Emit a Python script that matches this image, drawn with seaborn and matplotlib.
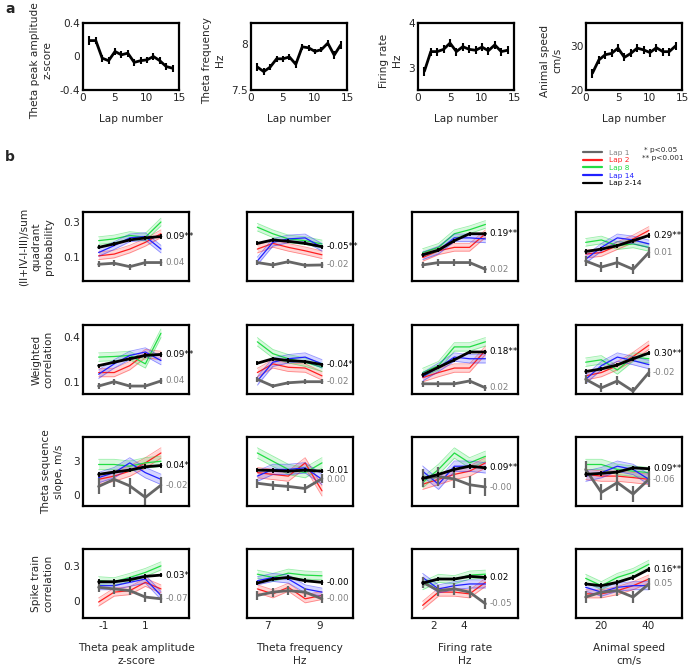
import numpy as np
import matplotlib
matplotlib.use("Agg")
import matplotlib.pyplot as plt
from matplotlib.lines import Line2D
import seaborn as sns

# ---------------- data: panel a (per-lap means) ----------------
laps = list(range(1, 15))
amp_by_lap = [0.19, 0.19, -0.02, -0.05, 0.06, 0.02, 0.04, -0.07, -0.05, -0.04, 0.0, -0.05, -0.12, -0.14]
amp_by_lap_err = [0.05, 0.04, 0.04, 0.04, 0.04, 0.04, 0.04, 0.04, 0.04, 0.04, 0.04, 0.04, 0.04, 0.04]
freq_by_lap = [7.75, 7.70, 7.75, 7.84, 7.84, 7.86, 7.78, 7.97, 7.96, 7.92, 7.94, 8.01, 7.88, 7.99]
freq_by_lap_err = [0.04, 0.04, 0.03, 0.03, 0.03, 0.03, 0.04, 0.03, 0.03, 0.03, 0.03, 0.03, 0.04, 0.04]
rate_by_lap = [2.92, 3.36, 3.36, 3.41, 3.55, 3.36, 3.47, 3.41, 3.39, 3.46, 3.38, 3.51, 3.36, 3.39]
rate_by_lap_err = [0.1, 0.09, 0.09, 0.09, 0.09, 0.09, 0.09, 0.09, 0.09, 0.09, 0.09, 0.09, 0.09, 0.09]
speed_by_lap = [23.8, 26.8, 28.0, 28.3, 29.5, 27.4, 28.3, 29.5, 29.1, 28.5, 29.6, 28.7, 28.7, 30.0]
speed_by_lap_err = [1.0, 0.9, 0.9, 0.9, 0.9, 0.9, 0.9, 0.9, 0.9, 0.9, 0.9, 0.9, 0.9, 1.0]

# ---------------- data: panel b (binned) ----------------
amp_bins = [-1.25, -0.5, 0.25, 1.0, 1.75]
freq_bins = [6.6, 7.2, 7.8, 8.45, 9.1]
rate_bins = [1.3, 2.35, 3.4, 4.4, 5.45]
speed_bins = [13.5, 20.2, 27.0, 33.7, 40.4]

# row 1: quadrant probability; each list = 4 columns x 5 bins
quad_lap1 = [[0.057, 0.063, 0.043, 0.067, 0.067], [0.067, 0.053, 0.072, 0.051, 0.053],
             [0.053, 0.067, 0.067, 0.067, 0.028], [0.076, 0.041, 0.067, 0.028, 0.125]]
quad_lap2 = [[0.106, 0.116, 0.145, 0.184, 0.234], [0.145, 0.178, 0.155, 0.135, 0.112],
             [0.096, 0.135, 0.155, 0.155, 0.234], [0.116, 0.125, 0.165, 0.204, 0.253]]
quad_lap8 = [[0.194, 0.204, 0.224, 0.214, 0.302], [0.272, 0.234, 0.204, 0.194, 0.175],
             [0.125, 0.155, 0.234, 0.257, 0.288], [0.184, 0.198, 0.165, 0.175, 0.155]]
quad_lap14 = [[0.125, 0.165, 0.210, 0.218, 0.145], [0.076, 0.184, 0.204, 0.210, 0.155],
              [0.106, 0.139, 0.210, 0.210, 0.204], [0.086, 0.155, 0.210, 0.198, 0.175]]
quad_all = [[0.155, 0.175, 0.198, 0.210, 0.218], [0.178, 0.198, 0.190, 0.178, 0.159],
            [0.112, 0.139, 0.194, 0.234, 0.234], [0.131, 0.145, 0.165, 0.194, 0.224]]
quad_lap1_err = [0.018, 0.015, 0.02, 0.03]
quad_band = [0.022, 0.022, 0.022, 0.022]
quad_r_all = ["0.09**", "-0.05**", "0.19**", "0.29**"]
quad_r_lap1 = ["0.04", "-0.02", "0.02", "0.01"]

# row 2: weighted correlation
wcorr_lap1 = [[0.073, 0.102, 0.073, 0.073, 0.107], [0.118, 0.073, 0.095, 0.102, 0.102],
              [0.088, 0.088, 0.088, 0.107, 0.061], [0.118, 0.061, 0.107, 0.039, 0.163]]
wcorr_lap2 = [[0.163, 0.163, 0.209, 0.289, 0.277], [0.163, 0.221, 0.198, 0.193, 0.141],
              [0.129, 0.163, 0.193, 0.193, 0.311], [0.141, 0.163, 0.209, 0.270, 0.345]]
wcorr_lap8 = [[0.266, 0.270, 0.277, 0.221, 0.425], [0.368, 0.289, 0.255, 0.232, 0.198],
              [0.163, 0.209, 0.334, 0.334, 0.368], [0.232, 0.248, 0.180, 0.266, 0.255]]
wcorr_lap14 = [[0.152, 0.221, 0.277, 0.300, 0.243], [0.107, 0.232, 0.255, 0.266, 0.221],
               [0.134, 0.198, 0.266, 0.255, 0.255], [0.118, 0.209, 0.266, 0.243, 0.216]]
wcorr_all = [[0.209, 0.232, 0.255, 0.277, 0.284], [0.225, 0.255, 0.243, 0.236, 0.216],
             [0.148, 0.198, 0.248, 0.300, 0.300], [0.170, 0.187, 0.214, 0.255, 0.293]]
wcorr_lap1_err = [0.02, 0.015, 0.02, 0.03]
wcorr_band = [0.028, 0.028, 0.028, 0.028]
wcorr_r_all = ["0.09**", "-0.04*", "0.18**", "0.30**"]
wcorr_r_lap1 = ["0.04", "-0.02", "0.02", "-0.02"]

# row 3: theta sequence slope
slope_lap1 = [[0.75, 1.37, 0.80, -0.20, 0.86], [1.03, 0.86, 0.75, 0.57, 1.43],
              [1.50, 1.60, 1.40, 0.90, 0.70], [2.23, 0.23, 1.09, 0.09, 1.37]]
slope_lap2 = [[1.37, 1.65, 2.08, 2.80, 3.66], [1.95, 1.80, 1.65, 2.80, 0.37],
              [0.94, 1.37, 1.80, 2.08, 2.80], [1.80, 1.65, 1.65, 1.52, 1.37]]
slope_lap8 = [[2.66, 2.66, 2.51, 2.80, 2.94], [3.66, 2.94, 2.23, 1.95, 2.80],
              [1.09, 2.23, 3.66, 2.80, 3.37], [2.66, 2.66, 2.23, 2.08, 1.95]]
slope_lap14 = [[1.52, 1.95, 2.80, 1.95, 1.37], [1.65, 2.23, 2.23, 2.37, 1.37],
               [2.08, 0.94, 2.51, 2.51, 2.37], [1.65, 1.95, 2.51, 2.23, 1.37]]
slope_all = [[1.80, 2.00, 2.17, 2.46, 2.57], [2.17, 2.14, 2.08, 2.17, 2.08],
             [1.43, 1.80, 2.23, 2.51, 2.37], [1.80, 1.89, 2.00, 2.37, 2.29]]
slope_lap1_err = [0.7, 0.4, 0.8, 0.7]
slope_band = [0.45, 0.45, 0.45, 0.45]
slope_r_all = ["0.04*", "-0.01", "0.09**", "0.09**"]
slope_r_lap1 = ["-0.02", "0.00", "-0.00", "-0.06"]

# row 4: spike train correlation
spike_lap1 = [[0.117, 0.103, 0.088, 0.032, 0.017], [0.046, 0.075, 0.088, 0.075, 0.017],
              [0.160, 0.088, 0.103, 0.075, -0.026], [0.032, 0.075, 0.088, 0.032, 0.146]]
spike_lap2 = [[-0.011, 0.075, 0.088, 0.160, 0.103], [0.103, 0.060, 0.117, 0.017, 0.046],
              [-0.040, 0.075, 0.075, 0.060, 0.160], [0.060, 0.060, 0.088, 0.131, 0.189]]
spike_lap8 = [[0.174, 0.165, 0.203, 0.246, 0.303], [0.231, 0.203, 0.240, 0.223, 0.217],
              [0.131, 0.195, 0.183, 0.223, 0.231], [0.195, 0.131, 0.203, 0.246, 0.317]]
spike_lap14 = [[0.131, 0.131, 0.160, 0.189, 0.046], [0.174, 0.203, 0.189, 0.103, 0.075],
               [0.203, 0.103, 0.131, 0.146, 0.146], [0.117, 0.075, 0.117, 0.131, 0.131]]
spike_all = [[0.165, 0.165, 0.183, 0.212, 0.223], [0.154, 0.189, 0.203, 0.174, 0.160],
             [0.154, 0.189, 0.189, 0.212, 0.203], [0.146, 0.131, 0.160, 0.203, 0.274]]
spike_lap1_err = [0.04, 0.04, 0.05, 0.05]
spike_band = [0.035, 0.035, 0.035, 0.035]
spike_r_all = ["0.03*", "-0.00", "0.02", "0.16**"]
spike_r_lap1 = ["-0.07", "-0.00", "-0.05", "0.05"]

legend_labels = ["Lap 1", "Lap 2", "Lap 8", "Lap 14", "Lap 2-14"]

# ---------------- styling ----------------
sns.set_style("white")
plt.rcParams["font.family"] = ["DejaVu Sans"]
plt.rcParams["axes.unicode_minus"] = False
plt.rcParams["font.size"] = 7.5

W, H = 688, 671
fig = plt.figure(figsize=(W / 100, H / 100), dpi=100)

LAB_FS = 7.6
TICK_FS = 7.6


def add_ax(left, top, width, height):
    return fig.add_axes([left / W, 1 - (top + height) / H, width / W, height / H])


def style_box(ax):
    for s in ax.spines.values():
        s.set_visible(True)
        s.set_linewidth(1.6)
        s.set_color("black")
    ax.tick_params(length=0, labelsize=TICK_FS, pad=2)


C_GRAY = "#666666"
C_GRAY_TXT = "#808080"
C_RED = "#ff2020"
C_GREEN = "#22dd44"
C_BLUE = "#2020ff"

# ---------------- panel a ----------------
top_series = [
    (amp_by_lap, amp_by_lap_err, "Theta peak amplitude\nz-score", (-0.4, 0.4), [-0.4, 0, 0.4], ["-0.4", "0", "0.4"]),
    (freq_by_lap, freq_by_lap_err, "Theta frequency\nHz", (7.5, 8.23), [7.5, 8], ["7.5", "8"]),
    (rate_by_lap, rate_by_lap_err, "Firing rate\nHz", (2.5, 4.0), [3, 4], ["3", "4"]),
    (speed_by_lap, speed_by_lap_err, "Animal speed\ncm/s", (20, 35.2), [20, 30], ["20", "30"]),
]
top_lefts = [83, 251, 418, 586]
for i, (vals, err, ylab, ylim, yt, ytl) in enumerate(top_series):
    ax = add_ax(top_lefts[i], 23, 96, 67)
    sns.lineplot(x=laps, y=vals, color="black", linewidth=2, ax=ax)
    ax.errorbar(laps, vals, yerr=err, fmt="none", ecolor="black", elinewidth=1.5, capsize=0)
    ax.set_xlim(0, 15)
    ax.set_ylim(*ylim)
    ax.set_xticks([0, 5, 10, 15])
    ax.set_xticklabels(["0", "5", "10", "15"])
    ax.set_yticks(yt)
    ax.set_yticklabels(ytl)
    ax.set_xlabel("Lap number", fontsize=LAB_FS, labelpad=8)
    ax.set_ylabel(ylab, fontsize=LAB_FS, labelpad=5, linespacing=1.3)
    ax.yaxis.label.set_y(0.44)
    style_box(ax)

# ---------------- panel b ----------------
rows = [
    (quad_lap1, quad_lap2, quad_lap8, quad_lap14, quad_all, quad_lap1_err, quad_band, quad_r_all, quad_r_lap1,
     "(II+IV-I-III)/sum\nquadrant\nprobability", (-0.04, 0.36), [0.1, 0.3], ["0.1", "0.3"], 0.006),
    (wcorr_lap1, wcorr_lap2, wcorr_lap8, wcorr_lap14, wcorr_all, wcorr_lap1_err, wcorr_band, wcorr_r_all, wcorr_r_lap1,
     "Weighted\ncorrelation", (0.02, 0.48), [0.1, 0.4], ["0.1", "0.4"], 0.007),
    (slope_lap1, slope_lap2, slope_lap8, slope_lap14, slope_all, slope_lap1_err, slope_band, slope_r_all, slope_r_lap1,
     "Theta sequence\nslope, m/s", (-0.95, 5.05), [0, 3], ["0", "3"], 0.1),
    (spike_lap1, spike_lap2, spike_lap8, spike_lap14, spike_all, spike_lap1_err, spike_band, spike_r_all, spike_r_lap1,
     "Spike train\ncorrelation", (-0.15, 0.45), [0, 0.3], ["0", "0.3"], 0.01),
]
cols = [
    (amp_bins, (-2.0, 3.1), [-1, 1], ["-1", "1"], "Theta peak amplitude\nz-score"),
    (freq_bins, (6.2, 10.3), [7, 9], ["7", "9"], "Theta frequency\nHz"),
    (rate_bins, (0.6, 7.6), [2, 4], ["2", "4"], "Firing rate\nHz"),
    (speed_bins, (9.4, 54.5), [20, 40], ["20", "40"], "Animal speed\ncm/s"),
]
b_lefts = [83, 247, 412, 576]
b_tops = [212, 325, 437, 549]

for r, (l1, l2, l8, l14, lall, l1err, band, rall, rl1, ylab, ylim, yt, ytl, allerr) in enumerate(rows):
    for c, (xs, xlim, xt, xtl, xlab) in enumerate(cols):
        ax = add_ax(b_lefts[c], b_tops[r], 106, 69)
        for vals, colr in [(l2[c], C_RED), (l8[c], C_GREEN), (l14[c], C_BLUE)]:
            v = np.array(vals)
            ax.fill_between(xs, v - band[c], v + band[c], color=colr, alpha=0.18, linewidth=0)
            ax.plot(xs, v - band[c], color=colr, alpha=0.45, linewidth=0.6)
            ax.plot(xs, v + band[c], color=colr, alpha=0.45, linewidth=0.6)
            sns.lineplot(x=xs, y=vals, color=colr, linewidth=0.9, ax=ax)
        sns.lineplot(x=xs, y=l1[c], color=C_GRAY, linewidth=2, ax=ax)
        ax.errorbar(xs, l1[c], yerr=l1err[c], fmt="none", ecolor=C_GRAY, elinewidth=1.6, capsize=0)
        sns.lineplot(x=xs, y=lall[c], color="black", linewidth=2, ax=ax)
        ax.errorbar(xs, lall[c], yerr=allerr * 2, fmt="none", ecolor="black", elinewidth=1.3, capsize=0)
        ax.set_xlim(*xlim)
        ax.set_ylim(*ylim)
        # text labels next to last point, pushed apart if too close
        ppu = 69 / (ylim[1] - ylim[0])
        y_all = lall[c][-1]
        y_l1 = l1[c][-1]
        dy_pts = 0
        gap_px = (y_all - y_l1) * ppu
        if abs(gap_px) < 9:
            dy_pts = (9 - abs(gap_px)) * 0.72 / 2
        sgn = 1 if y_all >= y_l1 else -1
        ax.annotate(rall[c], (xs[-1], y_all), xytext=(3, sgn * dy_pts), textcoords="offset points",
                    fontsize=6.3, color="black", va="center", ha="left", annotation_clip=False)
        ax.annotate(rl1[c], (xs[-1], y_l1), xytext=(3, -sgn * dy_pts), textcoords="offset points",
                    fontsize=6.3, color=C_GRAY_TXT, va="center", ha="left", annotation_clip=False)
        ax.set_xlabel("")
        ax.set_ylabel("")
        if c == 0:
            ax.set_yticks(yt)
            ax.set_yticklabels(ytl)
            ax.set_ylabel(ylab, fontsize=LAB_FS, labelpad=7, linespacing=1.3)
        else:
            ax.set_yticks([])
        if r == 3:
            ax.set_xticks(xt)
            ax.set_xticklabels(xtl)
            ax.set_xlabel(xlab, fontsize=LAB_FS, labelpad=9, linespacing=1.35)
        else:
            ax.set_xticks([])
        style_box(ax)

# legend
handles = [Line2D([0], [0], color=cc, linewidth=1.6) for cc in [C_GRAY, C_RED, C_GREEN, C_BLUE, "black"]]
fig.legend(handles, legend_labels, loc="upper left", bbox_to_anchor=(576 / W, 1 - 143 / H),
           frameon=False, fontsize=5.3, handlelength=2.6, handletextpad=1.0, labelspacing=0.2,
           labelcolor=[C_GRAY_TXT, C_RED, C_GREEN, C_BLUE, "black"])
fig.text(644 / W, 1 - 150 / H, "* p<0.05", fontsize=5.3, va="center", ha="left")
fig.text(642 / W, 1 - 158 / H, "** p<0.001", fontsize=5.3, va="center", ha="left")

fig.text(5 / W, 1 - 9 / H, "a", fontsize=10, fontweight="bold", va="center")
fig.text(5 / W, 1 - 157 / H, "b", fontsize=10, fontweight="bold", va="center")

fig.savefig("out.png", dpi=100)
